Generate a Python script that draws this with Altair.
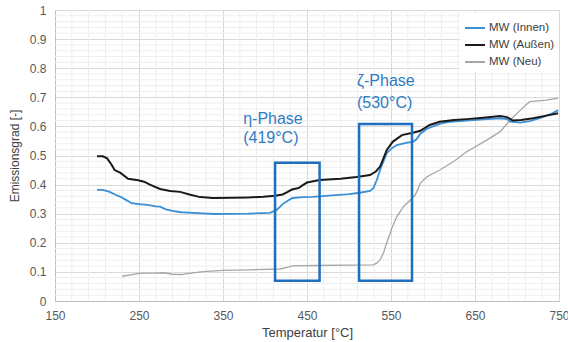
import altair as alt
import pandas as pd

# --- data ---
innen_t = [200, 207, 215, 222, 228, 236, 241, 250, 260, 270, 275, 282, 290, 300, 320, 340, 380, 406, 414, 421, 428, 433, 445, 457, 480, 500, 513, 525, 529, 533, 537, 541, 545, 551, 557, 568, 576, 580, 585, 593, 600, 610, 620, 640, 660, 680, 688, 692, 704, 715, 727, 740, 749]
innen_v = [0.382, 0.382, 0.375, 0.365, 0.358, 0.345, 0.336, 0.333, 0.330, 0.325, 0.324, 0.315, 0.310, 0.305, 0.302, 0.299, 0.300, 0.303, 0.313, 0.333, 0.346, 0.354, 0.357, 0.358, 0.363, 0.367, 0.372, 0.378, 0.388, 0.415, 0.450, 0.480, 0.508, 0.525, 0.536, 0.543, 0.547, 0.555, 0.575, 0.592, 0.600, 0.610, 0.616, 0.620, 0.624, 0.628, 0.625, 0.616, 0.613, 0.618, 0.628, 0.642, 0.656]

aussen_t = [200, 207, 212, 217, 221, 228, 237, 249, 256, 263, 275, 287, 299, 311, 323, 338, 360, 380, 398, 412, 421, 427, 432, 440, 445, 450, 465, 490, 509, 525, 532, 537, 541, 545, 552, 563, 576, 585, 596, 608, 625, 640, 660, 680, 688, 695, 705, 719, 735, 749]
aussen_v = [0.497, 0.497, 0.490, 0.470, 0.450, 0.440, 0.420, 0.415, 0.410, 0.400, 0.385, 0.378, 0.375, 0.365, 0.357, 0.354, 0.355, 0.356, 0.358, 0.362, 0.366, 0.375, 0.383, 0.388, 0.398, 0.407, 0.416, 0.420, 0.426, 0.433, 0.445, 0.462, 0.490, 0.519, 0.547, 0.570, 0.578, 0.585, 0.605, 0.616, 0.622, 0.625, 0.630, 0.636, 0.632, 0.620, 0.622, 0.628, 0.637, 0.645]

neu_t = [230, 240, 250, 265, 280, 290, 300, 310, 326, 350, 380, 418, 425, 433, 460, 500, 529, 533, 537, 541, 545, 551, 557, 565, 573, 579, 585, 593, 608, 625, 640, 664, 680, 692, 704, 715, 735, 749]
neu_v = [0.085, 0.090, 0.095, 0.096, 0.097, 0.092, 0.091, 0.095, 0.101, 0.105, 0.107, 0.110, 0.115, 0.121, 0.122, 0.123, 0.124, 0.130, 0.141, 0.165, 0.200, 0.250, 0.290, 0.325, 0.347, 0.365, 0.405, 0.427, 0.450, 0.480, 0.513, 0.553, 0.582, 0.622, 0.656, 0.685, 0.690, 0.697]

series_names = ["MW (Innen)", "MW (Außen)", "MW (Neu)"]
series_colors = ["#3a8fd6", "#1a1a1a", "#a6a6a6"]
series_widths = [1.8, 2.0, 1.3]

# phase boxes
box_t1 = [412, 512]
box_t2 = [465, 575]
box_v1 = [0.07, 0.07]
box_v2 = [0.475, 0.608]

# annotations
ann_text = ["η-Phase", "(419°C)", "ζ-Phase", "(530°C)"]
ann_t = [374, 374, 509.5, 509.5]
ann_v = [0.627, 0.56, 0.755, 0.682]

x_ticks = [150, 250, 350, 450, 550, 650, 750]
y_ticks = [0, 0.1, 0.2, 0.3, 0.4, 0.5, 0.6, 0.7, 0.8, 0.9, 1.0]
minor_x = [t for t in range(150, 751, 20) if (t - 150) % 100 != 0]
minor_y = [round(i * 0.02, 2) for i in range(51) if i % 5 != 0]

# --- tables ---
rows = []
for name, ts, vs in [(series_names[0], innen_t, innen_v),
                     (series_names[1], aussen_t, aussen_v),
                     (series_names[2], neu_t, neu_v)]:
    for t, v in zip(ts, vs):
        rows.append({"T": t, "E": v, "Serie": name})
df = pd.DataFrame(rows)
boxes = pd.DataFrame({"t1": box_t1, "t2": box_t2, "v1": box_v1, "v2": box_v2})
ann = pd.DataFrame({"text": ann_text, "T": ann_t, "E": ann_v})

xscale = alt.Scale(domain=[150, 750], nice=False, zero=False)
yscale = alt.Scale(domain=[0, 1], nice=False)

xaxis = alt.Axis(values=x_ticks, title="Temperatur [°C]", format="d",
                 grid=True, gridColor="#d9d9d9", domainColor="#bfbfbf",
                 ticks=False, labelPadding=9, labelFontSize=12,
                 labelColor="#595959", titleFontSize=13,
                 titleFontWeight="normal", titleColor="#404040",
                 titlePadding=5, labelOverlap=False, labelFlush=False)
yaxis = alt.Axis(values=y_ticks, title="Emissionsgrad [-]", format=".1~f",
                 grid=True, gridColor="#d9d9d9", domainColor="#bfbfbf",
                 ticks=False, labelPadding=9, labelFontSize=12,
                 labelColor="#595959", titleFontSize=12,
                 titleFontWeight="normal", titleColor="#404040",
                 titlePadding=8, labelOverlap=False, labelFlush=False)

minor_x_layer = alt.Chart(pd.DataFrame({"T": minor_x})).mark_rule(
    color="#eeeeee", strokeWidth=1).encode(x=alt.X("T:Q", scale=xscale, axis=xaxis))
minor_y_layer = alt.Chart(pd.DataFrame({"E": minor_y})).mark_rule(
    color="#eeeeee", strokeWidth=1).encode(y=alt.Y("E:Q", scale=yscale, axis=yaxis))

color = alt.Color("Serie:N",
                  scale=alt.Scale(domain=series_names, range=series_colors),
                  legend=alt.Legend(title=None, orient="none", legendX=405, legendY=3,
                                    symbolType="stroke", symbolSize=400,
                                    symbolStrokeWidth=2, labelFontSize=11.5,
                                    labelColor="#404040", labelOffset=3,
                                    fillColor="white", padding=4, rowPadding=0))

def line_layer(i):
    return alt.Chart(df).transform_filter(
        alt.datum.Serie == series_names[i]
    ).mark_line(strokeWidth=series_widths[i], interpolate="linear").encode(
        x=alt.X("T:Q", scale=xscale, axis=xaxis),
        y=alt.Y("E:Q", scale=yscale, axis=yaxis),
        color=color,
    )

box_layer = alt.Chart(boxes).mark_rect(
    fill=None, filled=False, stroke="#1f6fbf", strokeWidth=2.5).encode(
    x=alt.X("t1:Q", scale=xscale, axis=xaxis), x2="t2:Q",
    y=alt.Y("v1:Q", scale=yscale, axis=yaxis), y2="v2:Q")

text_layer = alt.Chart(ann).mark_text(
    align="left", baseline="middle", fontSize=16, color="#2e7cc4").encode(
    x=alt.X("T:Q", scale=xscale, axis=xaxis),
    y=alt.Y("E:Q", scale=yscale, axis=yaxis), text="text:N")

chart = alt.layer(
    minor_x_layer, minor_y_layer,
    line_layer(2), line_layer(0), line_layer(1),
    box_layer, text_layer,
).properties(
    width=504, height=291,
    autosize=alt.AutoSizeParams(type="none"),
    padding={"left": 55, "top": 10, "right": 9, "bottom": 41},
).configure(
    font="Liberation Sans", background="white"
).configure_view(stroke=None)

chart.save("out.html", embed_options={"renderer": "svg", "actions": False})
